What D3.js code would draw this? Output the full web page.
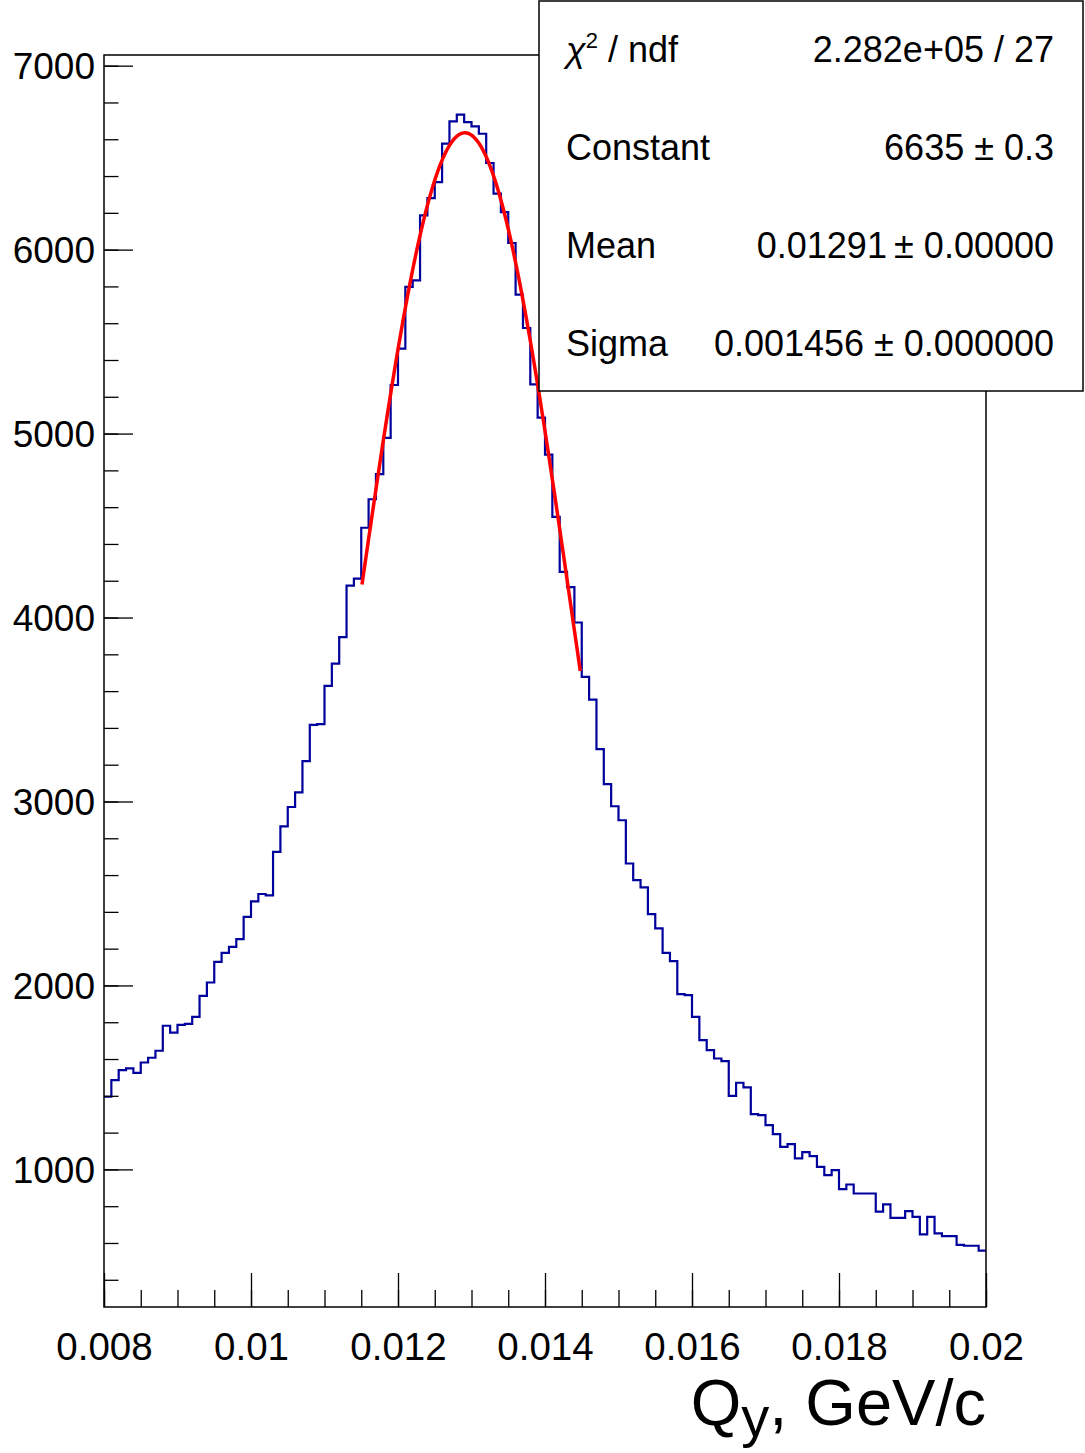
<!DOCTYPE html>
<html>
<head>
<meta charset="utf-8">
<script src="https://cdnjs.cloudflare.com/ajax/libs/d3/7.8.5/d3.min.js"></script>
<style>
  body { margin: 0; background: #fff; }
  text { font-family: "Liberation Sans", Arial, Helvetica, sans-serif; fill: #000; }
</style>
</head>
<body>
<div id="chart"></div>
<script>
(function () {

  // histogram: 120 bins of 0.0001 starting at 0.008
  var binLow = 0.008
  var binWidth = 0.0001
  var counts = [
    1395, 1485, 1540, 1549, 1525, 1581, 1607, 1645, 1781, 1743,
    1786, 1791, 1829, 1943, 2016, 2128, 2177, 2210, 2252, 2373,
    2457, 2497, 2490, 2726, 2865, 2970, 3050, 3219, 3416, 3421,
    3629, 3749, 3893, 4174, 4212, 4488, 4643, 4780, 4977, 5264,
    5462, 5797, 5833, 6186, 6280, 6367, 6576, 6697, 6734, 6693,
    6670, 6630, 6471, 6304, 6204, 6036, 5755, 5574, 5268, 5087,
    4886, 4547, 4248, 4165, 3973, 3677, 3554, 3285, 3094, 2974,
    2898, 2663, 2572, 2533, 2388, 2310, 2177, 2132, 1953, 1947,
    1829, 1703, 1648, 1603, 1589, 1400, 1471, 1446, 1301, 1295,
    1241, 1192, 1123, 1137, 1060, 1094, 1072, 1014, 969, 996,
    893, 918, 869, 869, 869, 770, 810, 737, 737, 773,
    742, 647, 742, 652, 637, 637, 590, 585, 585, 558
  ]

  var xTicks = [0.008, 0.010, 0.012, 0.014, 0.016, 0.018, 0.020]
  var xTickLabels = ["0.008", "0.01", "0.012", "0.014", "0.016", "0.018", "0.02"]
  var yTicks = [1000, 2000, 3000, 4000, 5000, 6000, 7000]

  // gaussian fit (Constant, Mean, Sigma) and its range
  var fitParams = [6635, 0.01291, 0.001456]
  var fitRange = [0.01151, 0.01448]

  var statNames = ["Constant", "Mean", "Sigma"]
  var statValues = ["6635 \u00b1 0.3", "0.01291\u2009\u00b1 0.00000", "0.001456 \u00b1 0.000000"]
  var chi2Text = "2.282e+05 / 27"

  var margin = { top: 55, right: 99, bottom: 146, left: 104 }
  var width = 1085 - margin.left - margin.right,
      height = 1453 - margin.top - margin.bottom

  var svg = d3.select("#chart").append("svg")
    .attr("width", 1085)
    .attr("height", 1453)
    .style("background", "#fff")

  var g = svg.append("g")
    .attr("transform", "translate(" + margin.left + "," + margin.top + ")")

  var xPositionScale = d3.scaleLinear()
    .domain([0.008, 0.02])
    .range([0, width])

  var yPositionScale = d3.scaleLinear()
    .domain([252, 7058])
    .range([height, 0])

  // step outline of the histogram
  var pts = counts.map(function (c, i) { return [binLow + i * binWidth, c] })
  pts.push([binLow + counts.length * binWidth, counts[counts.length - 1]])

  var step = d3.line()
    .x(function (d) { return xPositionScale(d[0]) })
    .y(function (d) { return yPositionScale(d[1]) })
    .curve(d3.curveStepAfter)

  g.append("path")
    .datum(pts)
    .attr("d", step)
    .attr("fill", "none")
    .attr("stroke", "#00009c")
    .attr("stroke-width", 2.2)

  // fit curve
  var gaus = function (x) {
    var z = (x - fitParams[1]) / fitParams[2]
    return fitParams[0] * Math.exp(-0.5 * z * z)
  }
  var fx = d3.range(0, 201).map(function (k) {
    return fitRange[0] + (fitRange[1] - fitRange[0]) * k / 200
  })
  g.append("path")
    .datum(fx)
    .attr("d", d3.line()
      .x(function (d) { return xPositionScale(d) })
      .y(function (d) { return yPositionScale(gaus(d)) }))
    .attr("fill", "none")
    .attr("stroke", "#ff0000")
    .attr("stroke-width", 3.5)

  // axes
  var xMinor = d3.range(0, 25).map(function (k) { return 0.008 + k * 0.0005 })
  var yMinor = d3.range(2, 36).map(function (k) { return k * 200 })

  g.append("g")
    .attr("class", "axis x-minor")
    .attr("transform", "translate(0," + height + ")")
    .call(d3.axisBottom(xPositionScale).tickValues(xMinor).tickSize(-17).tickFormat(""))

  var xAxis = d3.axisBottom(xPositionScale)
    .tickValues(xTicks)
    .tickSize(-34)
    .tickFormat(function (d, i) { return xTickLabels[i] })
  g.append("g")
    .attr("class", "axis x-axis")
    .attr("transform", "translate(0," + height + ")")
    .call(xAxis)

  g.selectAll(".x-axis text")
    .attr("y", 53)
    .attr("dy", 0)
    .style("font-size", "38.5px")

  g.append("g")
    .attr("class", "axis y-minor")
    .call(d3.axisLeft(yPositionScale).tickValues(yMinor).tickSize(-14.5).tickFormat(""))

  var yAxis = d3.axisLeft(yPositionScale)
    .tickValues(yTicks)
    .tickSize(-29)
    .tickFormat(d3.format("d"))
  g.append("g")
    .attr("class", "axis y-axis")
    .call(yAxis)

  g.selectAll(".y-axis text")
    .attr("x", -9)
    .attr("dy", "0.35em")
    .style("font-size", "37px")

  g.selectAll(".axis .domain").remove()
  g.selectAll(".axis line")
    .attr("stroke", "#000")
    .attr("stroke-width", 1.3)
  g.selectAll(".axis text")
    .attr("fill", "#000")
    .style("font-family", "'Liberation Sans', Arial, sans-serif")

  // frame
  g.append("rect")
    .attr("width", width)
    .attr("height", height)
    .attr("fill", "none")
    .attr("stroke", "#000")
    .attr("stroke-width", 1.5)

  // axis title
  var title = svg.append("text")
    .attr("x", 986)
    .attr("y", 1425)
    .attr("text-anchor", "end")
    .style("font-size", "65px")
  title.append("tspan").text("Q")
  title.append("tspan").attr("dy", 11).style("font-size", "56px").text("y")
  title.append("tspan").attr("dy", -11).text(", GeV/c")

  // stats box
  var box = svg.append("g").attr("class", "stats")
  box.append("rect")
    .attr("x", 539)
    .attr("y", 1)
    .attr("width", 544)
    .attr("height", 390)
    .attr("fill", "#fff")
    .attr("stroke", "#000")
    .attr("stroke-width", 1.5)

  var chi = box.append("text")
    .attr("x", 566)
    .attr("y", 62)
    .style("font-size", "36px")
  chi.append("tspan").style("font-style", "italic").text("\u03c7")
  chi.append("tspan").attr("dy", -14).style("font-size", "22px").text("2")
  chi.append("tspan").attr("dy", 14).text(" / ndf")

  box.append("text")
    .attr("x", 1054)
    .attr("y", 62)
    .attr("text-anchor", "end")
    .style("font-size", "36px")
    .text(chi2Text)

  box.selectAll(".sname")
    .data(statNames)
    .enter().append("text")
    .attr("class", "sname")
    .attr("x", 566)
    .attr("y", function (d, i) { return 160 + i * 98 })
    .style("font-size", "36px")
    .text(function (d) { return d })

  box.selectAll(".sval")
    .data(statValues)
    .enter().append("text")
    .attr("class", "sval")
    .attr("x", 1054)
    .attr("y", function (d, i) { return 160 + i * 98 })
    .attr("text-anchor", "end")
    .style("font-size", "36px")
    .text(function (d) { return d })

})()
</script>
</body>
</html>
